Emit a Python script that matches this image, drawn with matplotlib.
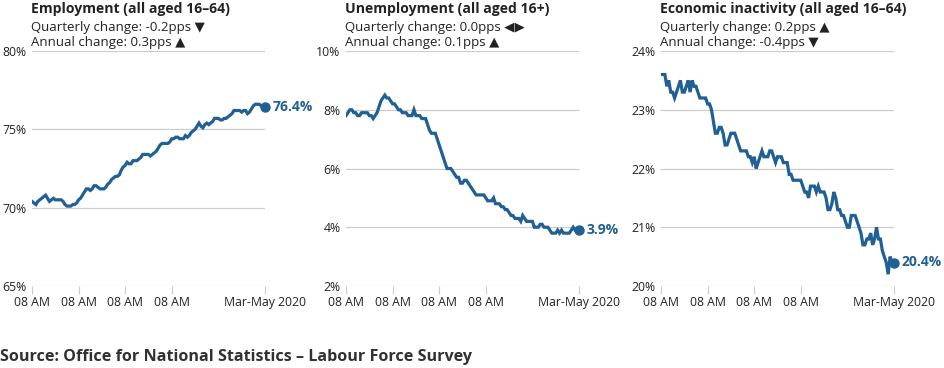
import numpy as np
import matplotlib.pyplot as plt

# rolling quarters, Mar-May 2010 .. Mar-May 2020 (121 points)
employment = [
    70.4, 70.3, 70.2, 70.4, 70.5, 70.6, 70.7, 70.8, 70.6, 70.4,
    70.5, 70.6, 70.5, 70.5, 70.5, 70.5, 70.4, 70.2, 70.1, 70.1,
    70.1, 70.2, 70.2, 70.3, 70.5, 70.6, 70.8, 71.0, 71.2, 71.2,
    71.1, 71.2, 71.4, 71.4, 71.3, 71.2, 71.2, 71.2, 71.3, 71.5,
    71.6, 71.8, 71.9, 72.0, 72.0, 72.1, 72.4, 72.6, 72.7, 72.9,
    72.8, 72.8, 73.0, 73.0, 73.0, 73.1, 73.2, 73.4, 73.4, 73.4,
    73.4, 73.3, 73.4, 73.5, 73.6, 73.8, 74.0, 74.1, 74.1, 74.1,
    74.1, 74.2, 74.4, 74.4, 74.5, 74.5, 74.4, 74.4, 74.4, 74.6,
    74.5, 74.6, 74.8, 74.9, 75.0, 75.2, 75.4, 75.2, 75.1, 75.3,
    75.4, 75.3, 75.4, 75.5, 75.7, 75.7, 75.7, 75.6, 75.6, 75.7,
    75.7, 75.8, 75.9, 76.0, 76.2, 76.2, 76.2, 76.2, 76.1, 76.2,
    76.2, 76.0, 76.1, 76.3, 76.5, 76.6, 76.6, 76.6, 76.5, 76.5,
    76.4,
]
unemployment = [
    7.8, 7.9, 8.0, 8.0, 7.9, 7.9, 7.8, 7.8, 7.9, 7.9,
    7.9, 7.9, 7.8, 7.8, 7.7, 7.8, 7.9, 8.1, 8.3, 8.4,
    8.5, 8.4, 8.4, 8.3, 8.2, 8.2, 8.1, 8.0, 8.0, 7.9,
    7.9, 7.9, 7.8, 7.8, 7.8, 8.0, 7.8, 7.8, 7.8, 7.7,
    7.7, 7.7, 7.5, 7.3, 7.2, 7.2, 7.2, 7.0, 6.8, 6.6,
    6.4, 6.2, 6.0, 6.0, 6.0, 5.9, 5.8, 5.7, 5.7, 5.5,
    5.5, 5.6, 5.6, 5.5, 5.4, 5.3, 5.2, 5.1, 5.1, 5.1,
    5.1, 5.1, 5.0, 4.9, 4.9, 4.9, 5.0, 4.8, 4.8, 4.8,
    4.7, 4.7, 4.6, 4.6, 4.5, 4.4, 4.4, 4.3, 4.3, 4.3,
    4.2, 4.4, 4.3, 4.2, 4.2, 4.2, 4.2, 4.0, 4.0, 4.0,
    4.1, 4.1, 4.0, 4.0, 4.0, 3.9, 3.8, 3.8, 3.8, 3.9,
    3.8, 3.9, 3.8, 3.8, 3.8, 3.8, 3.9, 4.0, 3.9, 3.9,
    3.9,
]
inactivity = [
    23.6, 23.6, 23.6, 23.4, 23.5, 23.3, 23.3, 23.2, 23.3, 23.4,
    23.5, 23.3, 23.3, 23.4, 23.5, 23.3, 23.5, 23.4, 23.4, 23.3,
    23.2, 23.2, 23.2, 23.2, 23.1, 23.1, 23.0, 22.8, 22.6, 22.6,
    22.7, 22.7, 22.6, 22.4, 22.4, 22.5, 22.6, 22.6, 22.6, 22.5,
    22.4, 22.3, 22.3, 22.3, 22.3, 22.2, 22.2, 22.1, 22.2, 22.0,
    22.1, 22.2, 22.3, 22.2, 22.2, 22.2, 22.3, 22.3, 22.2, 22.1,
    22.2, 22.2, 22.2, 22.1, 22.1, 22.1, 21.9, 21.9, 21.8, 21.8,
    21.8, 21.8, 21.8, 21.7, 21.6, 21.6, 21.5, 21.7, 21.7, 21.7,
    21.6, 21.7, 21.6, 21.6, 21.6, 21.5, 21.3, 21.3, 21.4, 21.6,
    21.5, 21.3, 21.3, 21.2, 21.2, 21.1, 21.0, 21.0, 21.2, 21.2,
    21.2, 21.1, 21.0, 20.9, 20.7, 20.7, 20.8, 20.8, 20.9, 20.7,
    20.8, 21.0, 20.8, 20.8, 20.6, 20.5, 20.4, 20.2, 20.5, 20.4,
    20.4,
]

titles = ["Employment (all aged 16\u201364)", "Unemployment (all aged 16+)",
          "Economic inactivity (all aged 16\u201364)"]
quarterly = ["Quarterly change: -0.2pps \u25BC", "Quarterly change: 0.0pps \u25C0\u25B6",
             "Quarterly change: 0.2pps \u25B2"]
annual = ["Annual change: 0.3pps \u25B2", "Annual change: 0.1pps \u25B2",
          "Annual change: -0.4pps \u25BC"]
end_labels = ["76.4%", "3.9%", "20.4%"]
y_ticks = [[65, 70, 75, 80], [2, 4, 6, 8, 10], [20, 21, 22, 23, 24]]
x_tick_pos = [0, 24, 48, 72, 120]
x_tick_labels = ["08 AM", "08 AM", "08 AM", "08 AM", "Mar-May 2020"]

series = [employment, unemployment, inactivity]
blue = "#206095"
fonts = ["Open Sans", "DejaVu Sans"]
plt.rcParams['font.family'] = fonts

W, H = 944, 368
fig = plt.figure(figsize=(W / 100, H / 100), dpi=100)

lefts = [32, 346, 661]
for k in range(3):
    ax = fig.add_axes([lefts[k] / W, (H - 286) / H, 233 / W, 235 / H])
    y = series[k]
    x = np.arange(len(y))
    ax.plot(x, y, color=blue, lw=2.3, solid_joinstyle='miter', zorder=3)
    ax.plot(x[-1], y[-1], 'o', color=blue, ms=6.5, zorder=4, clip_on=False)
    ax.text(x[-1] + 4, y[-1], end_labels[k], color=blue, fontsize=10,
            fontweight='bold', va='center', ha='left', clip_on=False)
    ax.set_xlim(0, len(y) - 1)
    yt = y_ticks[k]
    ax.set_ylim(yt[0], yt[-1])
    ax.set_yticks(yt)
    ax.set_yticklabels([f"{v}%" for v in yt])
    ax.set_xticks(x_tick_pos)
    ax.set_xticklabels(x_tick_labels)
    for s in ax.spines.values():
        s.set_visible(False)
    ax.grid(axis='y', color='#cccccc', lw=0.9)
    ax.tick_params(axis='y', length=0, pad=4, labelsize=8.8, colors='#222222')
    ax.tick_params(axis='x', length=6, width=0.8, color='#cccccc', pad=1,
                   labelsize=8.8, labelcolor='#222222')
    ax.set_axisbelow(True)

    tx = (lefts[k] - 1) / W
    fig.text(tx, 1 - 13.5 / H, titles[k], fontsize=10.1, fontweight='bold',
             color='#222222', va='baseline')
    fig.text(tx, 1 - 31.5 / H, quarterly[k], fontsize=9.5, color='#222222',
             va='baseline')
    fig.text(tx, 1 - 46 / H, annual[k], fontsize=9.5, color='#222222',
             va='baseline')

fig.text(0, 1 - 361 / H, "Source: Office for National Statistics \u2013 Labour Force Survey",
         fontsize=11.6, fontweight='bold', color='#323132', va='baseline')

fig.savefig("out.png", dpi=100)
